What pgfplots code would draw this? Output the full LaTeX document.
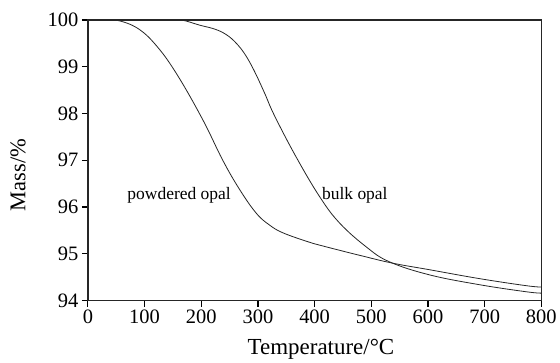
\documentclass[border=0pt]{standalone}
\usepackage{fontspec}
\setmainfont{Liberation Serif}
\usepackage{pgfplots}
\pgfplotsset{compat=1.18}
\begin{document}
\begin{tikzpicture}
\begin{axis}[
  name=main,
  scale only axis,
  width=454pt, height=281pt,
  xmin=0, xmax=800, ymin=94, ymax=100,
  xtick={0,100,...,800}, ytick={94,95,...,100},
  xtick pos=left, ytick pos=left,
  tick align=outside,
  major tick length=6pt,
  tick style={line width=1.2pt, black},
  axis line style={line width=1.6pt, black!85},
  /pgf/number format/assume math mode=true,
  /pgf/number format/1000 sep={},
  tick label style={font=\fontsize{20.5}{20.5}\selectfont},
  xlabel={Temperature/°C}, ylabel={Mass/\%},
  every axis x label/.style={at={(axis description cs:0.514,-0.192)}, anchor=base, font=\fontsize{23}{23}\selectfont},
  every axis y label/.style={at={(axis description cs:-0.154,0.448)}, rotate=90, anchor=center, font=\fontsize{22.5}{22.5}\selectfont},
  clip=true,
]
\addplot[black!85, line width=0.8pt, smooth, tension=0.65] coordinates {
(20,100) (49,100) (88,99.82) (123,99.42) (159,98.80) (203,97.86) (238,97.00)
(268,96.37) (297,95.87) (320,95.62) (344,95.45) (388,95.26) (414,95.17) (479,94.97) (538,94.80)
(603,94.66) (691,94.47) (773,94.32) (800,94.29)
};
\addplot[black!85, line width=0.8pt, smooth, tension=0.65] coordinates {
(130,100) (164,100) (197,99.89) (225,99.80) (245,99.68) (262,99.50) (278,99.25) (294,98.90)
(312,98.43) (329,97.96) (367,97.08) (409,96.22) (444,95.66) (491,95.15) (532,94.83)
(603,94.55) (691,94.34) (773,94.19) (800,94.16)
};
\node[font=\fontsize{17.5}{17.5}\selectfont] at (axis cs:161,96.26) {powdered opal};
\node[font=\fontsize{17.5}{17.5}\selectfont] at (axis cs:471,96.26) {bulk opal};
\end{axis}
\path[use as bounding box] (main.south west) ++(-88pt,-56pt) rectangle ++(560pt,357pt);
\end{tikzpicture}
\end{document}
